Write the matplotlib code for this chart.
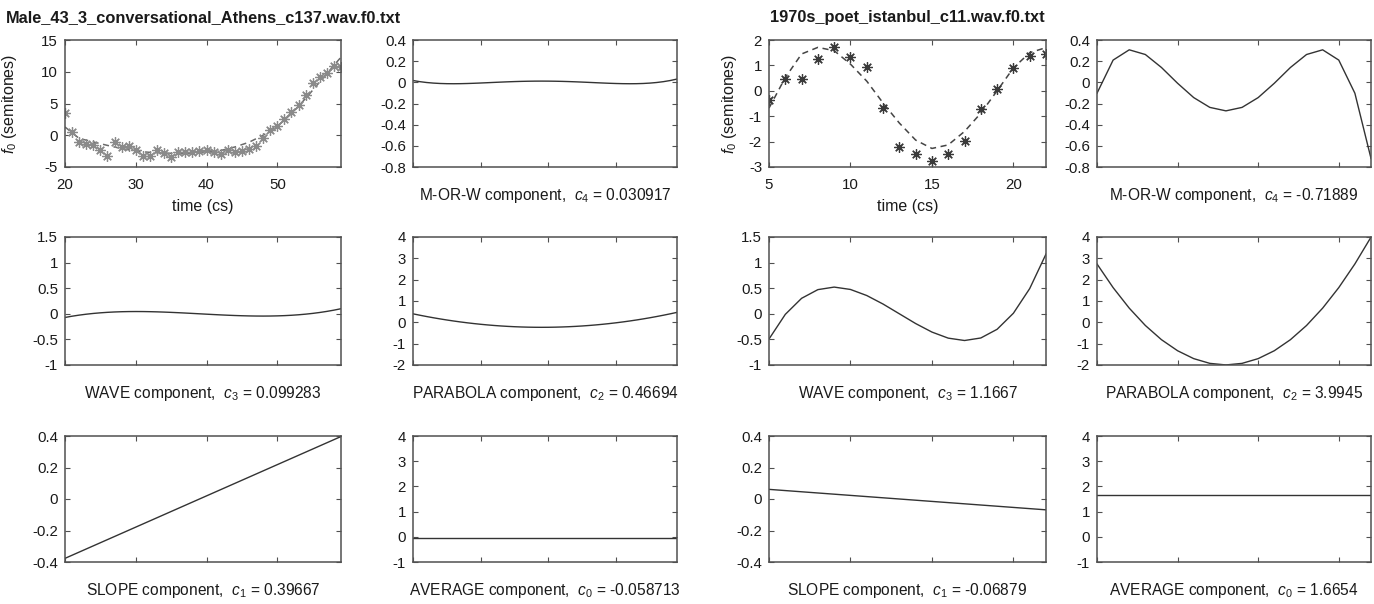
import numpy as np
import matplotlib
matplotlib.use("Agg")
import matplotlib.pyplot as plt
from matplotlib.ticker import FuncFormatter
from numpy.polynomial import legendre

plt.rcParams["font.family"] = ["Liberation Sans", "DejaVu Sans"]
plt.rcParams["mathtext.fontset"] = "custom"
plt.rcParams["mathtext.rm"] = "Liberation Sans"
plt.rcParams["mathtext.it"] = "Liberation Sans:italic"
plt.rcParams["axes.unicode_minus"] = False

# ---------------- data ----------------
athens_title = "Male_43_3_conversational_Athens_c137.wav.f0.txt"
athens_time = np.arange(20, 60)
athens_f0 = [3.5, 0.5, -1.05, -1.3, -1.6, -2.4, -3.2, -1.05, -1.8, -1.7,
             -2.4, -3.2, -3.2, -2.4, -2.8, -3.4, -2.6, -2.6, -2.6, -2.5,
             -2.4, -2.7, -2.9, -2.4, -2.6, -2.5, -2.2, -1.7, -0.5, 0.8,
             1.4, 2.6, 3.7, 4.7, 6.3, 8.3, 9.1, 9.8, 10.9, 10.7]
athens_fit_time = [20, 22, 24, 26, 28, 30, 32, 34, 36, 38, 40, 42, 44, 46,
                   48, 50, 52, 54, 56, 58, 59]
athens_fit = [1.3, -0.5, -1.05, -1.6, -2.1, -2.5, -2.7, -2.8, -2.9, -2.8,
              -2.6, -2.4, -1.85, -1.1, 0.0, 1.4, 3.4, 5.8, 8.4, 11.0, 12.3]
athens_center, athens_half = 39, 20
# coefficients c0..c4
athens_coef = [-0.058713, 0.39667, 0.46694, 0.099283, 0.030917]

istanbul_title = "1970s_poet_istanbul_c11.wav.f0.txt"
istanbul_time = np.arange(5, 23)
istanbul_f0 = [-0.35, 0.48, 0.48, 1.25, 1.74, 1.34, 0.94, -0.68, -2.2, -2.5,
               -2.77, -2.5, -1.98, -0.72, 0.09, 0.89, 1.38, 1.44]
istanbul_fit_time = list(range(5, 23))
istanbul_fit = [-0.68, 0.52, 1.45, 1.71, 1.58, 1.05, 0.38, -0.48, -1.27,
                -1.94, -2.27, -2.13, -1.6, -0.88, 0.0, 0.9, 1.5, 1.7]
istanbul_center, istanbul_half = 13, 9
istanbul_coef = [1.6654, -0.06879, 3.9945, 1.1667, -0.71889]

component_names = ["AVERAGE", "SLOPE", "PARABOLA", "WAVE", "M-OR-W"]
component_ylim = [(-1, 4), (-0.4, 0.4), (-2, 4), (-1, 1.5), (-0.8, 0.4)]
component_yticks = [np.arange(-1, 4.1, 1), np.arange(-0.4, 0.41, 0.2),
                    np.arange(-2, 4.1, 1), np.arange(-1, 1.51, 0.5),
                    np.arange(-0.8, 0.41, 0.2)]

# ---------------- figure ----------------
W, H = 1374, 604
fig = plt.figure(figsize=(W / 100, H / 100), dpi=100)

col_px = [(65, 341), (413, 677), (769, 1046), (1097, 1371)]
row_px = [(40, 167), (237, 365), (436, 562)]

SPINE = "#505050"
LINE = "#333333"
TEXT = "#1a1a1a"


def tick_text(v, pos):
    v = round(v, 6)
    if abs(v) < 1e-9:
        return "0"
    return "%g" % v


def make_ax(c, r):
    x0, x1 = col_px[c]
    y0, y1 = row_px[r]
    ax = fig.add_axes([x0 / W, (H - y1) / H, (x1 - x0) / W, (y1 - y0) / H])
    for s in ax.spines.values():
        s.set_color(SPINE)
        s.set_linewidth(1.1)
    ax.tick_params(direction="in", length=3.5, width=0.8, colors=SPINE,
                   labelcolor=TEXT, labelsize=10.8, top=True, right=True)
    ax.tick_params(axis="x", pad=8)
    ax.tick_params(axis="y", pad=5)
    ax.yaxis.set_major_formatter(FuncFormatter(tick_text))
    return ax


def draw_speaker(col0, title, time, f0, fit_t, fit, center, half, coef,
                 xlim, xticks, f0_ylim, f0_yticks, star_color, fit_color,
                 ylabel_x):
    # f0 contour with fitted curve
    ax = make_ax(col0, 0)
    ax.plot(fit_t, fit, ls=(0, (4, 3)), color=fit_color, lw=1.1)
    ax.plot(time, f0, ls="none", marker=(8, 2, 0), ms=7.5, mew=0.9,
            color=star_color)
    ax.set_xlim(*xlim)
    ax.set_xticks(xticks)
    ax.set_ylim(*f0_ylim)
    ax.set_yticks(f0_yticks)
    ax.set_title(title, fontsize=11.8, fontweight="bold", color=TEXT, pad=13)
    ax.set_xlabel("time (cs)", fontsize=11.5, color=TEXT)
    ax.xaxis.set_label_coords(0.5, -0.255)
    ax.set_ylabel("$f_0$ (semitones)", fontsize=11.5, color=TEXT)
    ax.yaxis.set_label_coords(ylabel_x, 0.5)

    t = (np.asarray(time, dtype=float) - center) / half
    slots = {4: (col0 + 1, 0), 3: (col0, 1), 2: (col0 + 1, 1),
             1: (col0, 2), 0: (col0 + 1, 2)}
    for k, (c, r) in slots.items():
        ax = make_ax(c, r)
        basis = np.zeros(k + 1)
        basis[k] = 1.0
        comp = coef[k] * legendre.legval(t, basis)
        ax.plot(time, comp, color=LINE, lw=1.0)
        ax.set_xlim(*xlim)
        ax.set_xticks(xticks)
        ax.set_xticklabels([])
        ax.set_ylim(*component_ylim[k])
        ax.set_yticks(component_yticks[k])
        label = "%s component,  $c_{%d}$ = %.5g" % (component_names[k], k, coef[k])
        ax.annotate(label, xy=(0.5, 0), xycoords="axes fraction",
                    xytext=(0, -24), textcoords="offset points",
                    ha="center", va="baseline", fontsize=11.2, color=TEXT)


draw_speaker(0, athens_title, athens_time, athens_f0, athens_fit_time,
             athens_fit, athens_center, athens_half, athens_coef,
             (20, 59), [20, 30, 40, 50], (-5, 15), [-5, 0, 5, 10, 15],
             "#8a8a8a", "#6a6a6a", -0.165)
draw_speaker(2, istanbul_title, istanbul_time, istanbul_f0, istanbul_fit_time,
             istanbul_fit, istanbul_center, istanbul_half, istanbul_coef,
             (5, 22), [5, 10, 15, 20], (-3, 2), [-3, -2, -1, 0, 1, 2],
             "#3a3a3a", "#444444", -0.11)

fig.savefig("out.png", dpi=100)
